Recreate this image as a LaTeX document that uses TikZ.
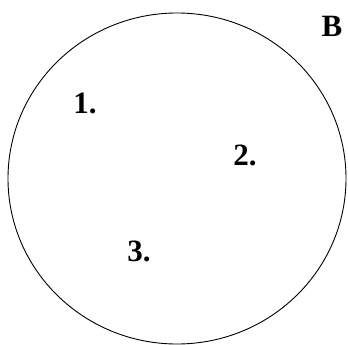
\documentclass[tikz,border=0pt]{standalone}
\usepackage{fontspec}
\setmainfont{Liberation Serif}

\begin{document}
\begin{tikzpicture}[x=1pt,y=-1pt,line width=0.9pt,
  etiq/.style={font=\fontsize{31}{31}\selectfont\bfseries,inner sep=0pt}]
  \useasboundingbox (0,0) rectangle (348,345);
  % conjunto B (centro 177,178.5)
  \draw (177,178.5) ellipse (169 and 165.5);
  \node[etiq] (B) at (332,26) {B};
  % puntos
  \node[etiq] (p1) at (85,103) {1.};
  \node[etiq] (p2) at (245,155) {2.};
  \node[etiq] (p3) at (139,251) {3.};
\end{tikzpicture}
\end{document}
